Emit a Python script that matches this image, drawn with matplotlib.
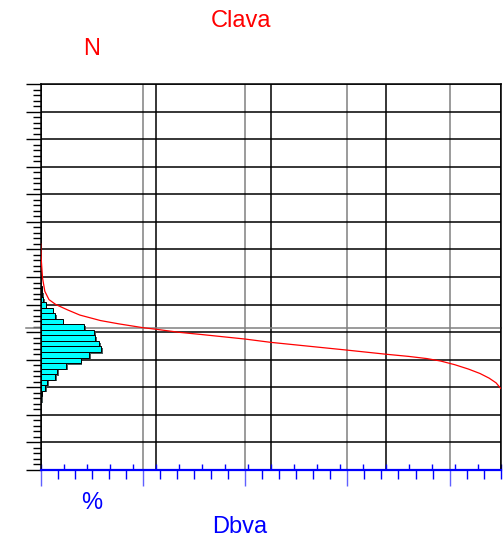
import matplotlib
matplotlib.use('Agg')
import matplotlib.pyplot as plt
import matplotlib.patheffects as pe
from matplotlib.ticker import MultipleLocator

# exceedance curve: % of values (x) against level N (y)
curve_pct = [0, 0.1, 0.4, 0.9, 1.8, 3.3, 5.8, 8.5, 13, 17, 22.3, 24.8, 30.3,
             34.6, 44.4, 50, 66.5, 75, 80, 84, 87, 90, 93, 95.5, 97.5, 99, 100]
curve_n = [8.2, 7.69, 6.96, 6.48, 6.18, 6.0, 5.81, 5.62, 5.42, 5.3, 5.16, 5.11,
           4.99, 4.92, 4.75, 4.63, 4.35, 4.2, 4.12, 4.04, 3.95, 3.82, 3.66,
           3.5, 3.33, 3.16, 2.96]

# histogram of N (bin centres) and share of values in %
bin_n = [6.58, 6.38, 6.18, 5.98, 5.78, 5.58, 5.38, 5.18, 4.98, 4.78, 4.58,
         4.38, 4.18, 3.98, 3.78, 3.58, 3.38, 3.18, 2.98, 2.78, 2.58]
bin_pct = [0.2, 0.35, 0.6, 1.1, 2.6, 3.2, 4.8, 9.5, 11.6, 11.9, 12.7,
           13.1, 10.6, 8.7, 5.5, 3.6, 3.1, 1.45, 1.0, 0.2, 0.1]

n_ref = 5.14      # grey reference level
dbva_max = 270    # range of the Dbva scale

W, H = 503, 539
fig = plt.figure(figsize=(W / 100, H / 100), dpi=100)
plt.rcParams['font.family'] = ['Liberation Sans', 'DejaVu Sans']

# Dbva axis sits underneath the main one
ax2 = fig.add_axes([40.7 / W, 1 - 470 / H, 460 / W, 386 / H])
ax2.set_xlim(0, dbva_max)
ax2.set_ylim(0, 1)
ax2.set_yticks([])
for s in ax2.spines.values():
    s.set_visible(False)
ax2.xaxis.set_major_locator(MultipleLocator(60))
ax2.xaxis.set_minor_locator(MultipleLocator(10))
ax2.tick_params(axis='x', which='major', direction='out', length=11.5, width=1,
                color='#6060ff', labelbottom=False)
ax2.tick_params(axis='x', which='minor', direction='out', length=6.5, width=1,
                color='blue')
ax2.grid(axis='x', which='major', color='#808080', lw=1.1)

ax = fig.add_axes([40.7 / W, 1 - 470 / H, 460 / W, 386 / H])
ax.patch.set_visible(False)
ax.set_zorder(ax2.get_zorder() + 1)
ax.set_xlim(0, 100)
ax.set_ylim(0, 14)
ax.set_axisbelow(True)

ax.xaxis.set_major_locator(MultipleLocator(25))
ax.xaxis.set_minor_locator(MultipleLocator(5))
ax.yaxis.set_major_locator(MultipleLocator(1))
ax.yaxis.set_minor_locator(MultipleLocator(0.2))
ax.tick_params(axis='x', which='both', direction='in', length=4.3, width=1,
               color='blue', labelbottom=False)
ax.tick_params(axis='y', which='major', direction='out', length=11, width=1,
               color='black', labelleft=False)
ax.tick_params(axis='y', which='minor', direction='out', length=5.5, width=1,
               color='black')
ax.grid(which='major', color='black', lw=1.1)

for side in ['left', 'top', 'right']:
    ax.spines[side].set_color('black')
    ax.spines[side].set_linewidth(1.1)
ax.spines['bottom'].set_color('blue')
ax.spines['bottom'].set_linewidth(1.6)

ax.axhline(n_ref, xmin=-15 / 460, xmax=1, color='#808080', lw=1.1, clip_on=False)

ax.barh(bin_n, bin_pct, height=0.2, left=0, color='#00ffff', edgecolor='black',
        lw=0.7, zorder=2,
        path_effects=[pe.SimplePatchShadow(offset=(1.2, -1.2), shadow_rgbFace='#3c4c4c',
                                           alpha=0.9), pe.Normal()])

ax.plot(curve_pct, curve_n, color='red', lw=0.9, zorder=3)

fig.text(241.5 / W, 1 - 27 / H, 'Clava', color='red', fontsize=17, ha='center', va='baseline')
fig.text(92 / W, 1 - 55 / H, 'N', color='red', fontsize=17, ha='center', va='baseline')
fig.text(92 / W, 1 - 509 / H, '%', color='blue', fontsize=17, ha='center', va='baseline')
fig.text(240 / W, 1 - 533 / H, 'Dbva', color='blue', fontsize=17, ha='center', va='baseline')

fig.savefig('out.png', dpi=100)
plt.close()
